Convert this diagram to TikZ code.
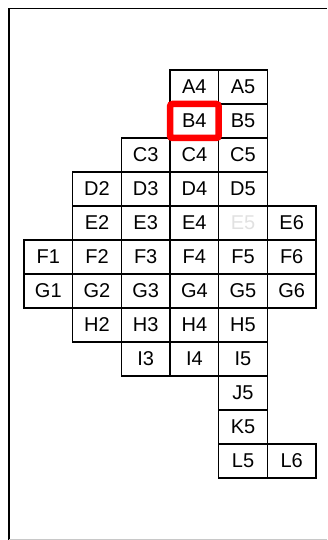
\documentclass[tikz,border=0pt]{standalone}
\usepackage{fontspec}
\setmainfont{Liberation Sans}
\definecolor{ghost}{RGB}{225,225,225}
\definecolor{edgegray}{RGB}{200,200,200}
\tikzset{
  cell/.style={draw=black, line width=1.2pt, minimum width=48.67pt, minimum height=34pt,
    inner sep=0pt, outer sep=0pt, font=\fontsize{20}{20}\selectfont, text=black},
  ghostcell/.style={cell, text=ghost},
  frame/.style={draw=black, line width=1.8pt},
  highlight/.style={draw=red, line width=6.5pt, rounded corners=2.5pt}
}
\begin{document}
\begin{tikzpicture}[x=1pt, y=-1pt]
\useasboundingbox (0,0) rectangle (327,540);
\clip (0,0) rectangle (327,540);
\coordinate (fb) at (9,540);
\coordinate (ft) at (9,8.5);
\coordinate (fr) at (327,8.5);
\draw[frame] (fb) -- (ft) -- (fr);
\draw[edgegray, line width=1pt] (9,539.5) -- (327,539.5);
\foreach \r/\L/\cols in {1/A/{4,5}, 2/B/{4,5}, 3/C/{3,4,5}, 4/D/{2,3,4,5}, 5/E/{2,3,4,6}, 6/F/{1,2,3,4,5,6}, 7/G/{1,2,3,4,5,6}, 8/H/{2,3,4,5}, 9/I/{3,4,5}, 10/J/{5}, 11/K/{5}, 12/L/{5,6}}{
  \foreach \c in \cols {
    \node[cell] (\L\c) at ({24+(\c-0.5)*48.67}, {70+(\r-0.5)*34}) {\L\c};
  }
}
\node[ghostcell] (E5) at ({24+4.5*48.67}, {70+4.5*34}) {E5};
\draw[highlight] (B4.north west) rectangle (B4.south east);
\end{tikzpicture}
\end{document}
